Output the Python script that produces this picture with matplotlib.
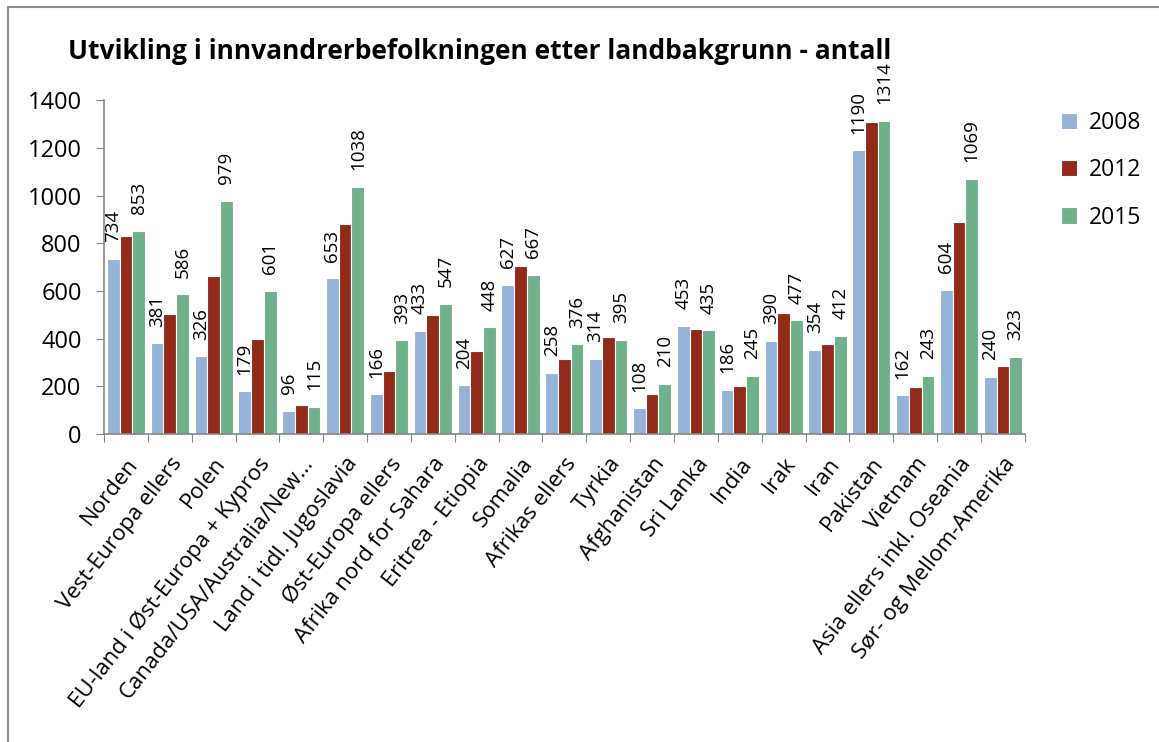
import numpy as np
import matplotlib.pyplot as plt
from matplotlib.lines import Line2D

plt.rcParams['font.family'] = ['Open Sans', 'DejaVu Sans']

categories = ['Norden', 'Vest-Europa ellers', 'Polen', 'EU-land i Øst-Europa + Kypros',
              'Canada/USA/Australia/New...', 'Land i tidl. Jugoslavia', 'Øst-Europa ellers',
              'Afrika nord for Sahara', 'Eritrea - Etiopia', 'Somalia', 'Afrikas ellers',
              'Tyrkia', 'Afghanistan', 'Sri Lanka', 'India', 'Irak', 'Iran', 'Pakistan',
              'Vietnam', 'Asia ellers inkl. Oseania', 'Sør- og Mellom-Amerika']
v2008 = [734, 381, 326, 179, 96, 653, 166, 433, 204, 627, 258, 314, 108, 453, 186, 390,
         354, 1190, 162, 604, 240]
v2012 = [830, 502, 662, 400, 120, 882, 266, 500, 347, 706, 316, 409, 167, 440, 200, 508,
         378, 1308, 196, 888, 284]
v2015 = [853, 586, 979, 601, 115, 1038, 393, 547, 448, 667, 376, 395, 210, 435, 245, 477,
         412, 1314, 243, 1069, 323]
years = ['2008', '2012', '2015']
colors = ['#95b3d7', '#922a1a', '#70b08a']

fig = plt.figure(figsize=(11.59, 7.42), dpi=100)
ax = fig.add_axes([0.0897, 0.415, 0.7945, 0.45])

x = np.arange(len(categories))
w = 0.29
series = [v2008, v2012, v2015]
for i, (vals, c, lab) in enumerate(zip(series, colors, years)):
    bars = ax.bar(x + (i - 1) * w, vals, width=w, color=c, edgecolor='white',
                  linewidth=0.8, label=lab)
    if i != 1:
        # only 2008 and 2015 are labelled
        for b, v in zip(bars, vals):
            ax.text(b.get_x() + b.get_width() / 2, v + 70, str(v), rotation=90,
                    ha='center', va='bottom', fontsize=13.5)

ax.set_xlim(-0.5, len(categories) - 0.5)
ax.set_ylim(0, 1400)
ax.set_yticks(range(0, 1401, 200))
ax.tick_params(axis='y', labelsize=17, length=6, color='#868686', pad=10)
ax.set_xticks(np.arange(len(categories) + 1) - 0.5, minor=False)
ax.set_xticklabels([])
ax.set_xticks(x, minor=True)
ax.set_xticklabels(categories, minor=True, rotation=52, ha='right',
                   rotation_mode='anchor', fontsize=16)
ax.tick_params(axis='x', which='major', length=6, color='#868686')
ax.tick_params(axis='x', which='minor', length=0, pad=14)
for s in ['top', 'right']:
    ax.spines[s].set_visible(False)
for s in ['left', 'bottom']:
    ax.spines[s].set_color('#868686')
    ax.spines[s].set_linewidth(1.2)

fig.text(0.059, 0.93, 'Utvikling i innvandrerbefolkningen etter landbakgrunn - antall',
         fontsize=19, fontweight='bold', ha='left', va='center')

ax.legend(loc='upper left', bbox_to_anchor=(1.017, 1.03), frameon=False, fontsize=16.5,
          handlelength=0.7, handleheight=0.7, labelspacing=1.02, handletextpad=0.5)

# outer chart border
fig.add_artist(Line2D([0.0065, 0.0065], [0, 0.9905], color='#8c8c8c', lw=1.5))
fig.add_artist(Line2D([0.0065, 1], [0.9905, 0.9905], color='#8c8c8c', lw=1.5))

plt.savefig('out.png')
